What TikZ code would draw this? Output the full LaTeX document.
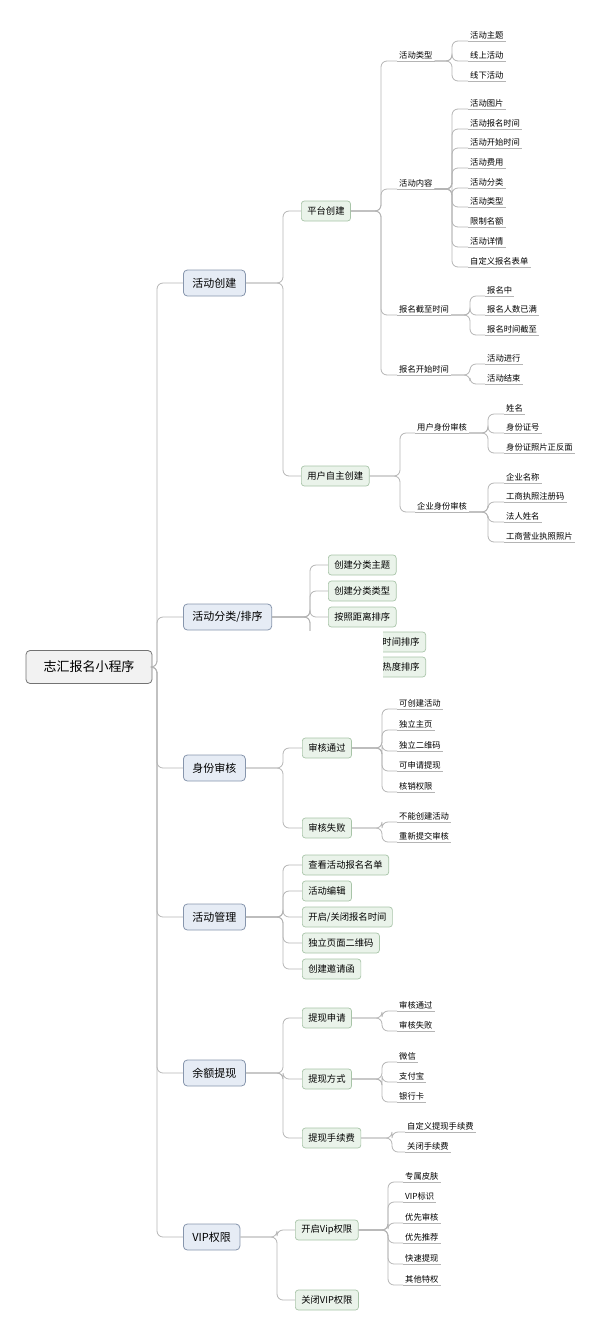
\documentclass[tikz,border=0pt]{standalone}
\usepackage{fontspec}
\setmainfont{Noto Sans CJK SC}
\definecolor{lnc}{HTML}{B4B4B4}
\definecolor{l1f}{HTML}{E6ECF5}
\definecolor{l1d}{HTML}{8796AD}
\definecolor{l2f}{HTML}{EAF3EA}
\definecolor{l2d}{HTML}{A8C4A8}
\begin{document}
\begin{tikzpicture}[x=1pt,y=-1pt,
  ln/.style={draw=lnc,line width=0.8pt,rounded corners=6pt},
  rootbox/.style={draw=black!55,fill=black!5,rounded corners=4pt,font=\fontsize{13}{15}\selectfont,minimum width=126pt,minimum height=33pt,line width=0.8pt},
  l1box/.style={draw=l1d,fill=l1f,rounded corners=4pt,font=\fontsize{11}{13}\selectfont,minimum height=26pt,inner xsep=9pt,line width=0.8pt},
  l2box/.style={draw=l2d,fill=l2f,rounded corners=3pt,font=\fontsize{9.3}{11}\selectfont,minimum height=20pt,inner xsep=6pt,line width=0.7pt},
  lf/.style={font=\fontsize{8.3}{9}\selectfont,inner xsep=2pt,inner ysep=2pt,anchor=south west}]
\useasboundingbox (0,0) rectangle (600,1334);
\newcommand\leaf[4]{\node[lf] (#1) at (#2,#3+9) {#4}; \draw[draw=lnc,line width=0.8pt] (#1.south west) -- (#1.south east);}
\newcommand\conn[3]{\draw[ln] (#1) -- (#2,0 |- #1) |- (#3);}
% root
\node[rootbox] (root) at (89,667) {志汇报名小程序};
% level 1
\node[l1box,anchor=west] (a) at (183,283) {活动创建};
\node[l1box,anchor=west] (b) at (183,617) {活动分类/排序};
\node[l1box,anchor=west] (c) at (183,768) {身份审核};
\node[l1box,anchor=west] (d) at (183,917) {活动管理};
\node[l1box,anchor=west] (e) at (183,1073) {余额提现};
\node[l1box,anchor=west] (f) at (183,1237) {VIP权限};
\foreach \n in {a,b,c,d,e,f}{\conn{root.east}{157}{\n.west}}
% 活动创建
\node[l2box,anchor=west] (a1) at (301,211) {平台创建};
\node[l2box,anchor=west] (a2) at (301,476) {用户自主创建};
\conn{a.east}{283}{a1.west}\conn{a.east}{283}{a2.west}
\leaf{a11}{397}{52}{活动类型\hspace{14pt}}
\leaf{a12}{397}{180}{活动内容\hspace{14pt}}
\leaf{a13}{397}{306}{报名截至时间\hspace{10pt}}
\leaf{a14}{397}{366}{报名开始时间\hspace{10pt}}
\foreach \n in {a11,a12,a13,a14}{\conn{a1.east}{381}{\n.south west}}
\leaf{t1}{468}{32}{活动主题}\leaf{t2}{468}{52}{线上活动}\leaf{t3}{468}{72}{线下活动}
\foreach \n in {t1,t2,t3}{\conn{a11.south east}{452}{\n.south west}}
\leaf{c1}{468}{100}{活动图片}\leaf{c2}{468}{120}{活动报名时间}\leaf{c3}{468}{139}{活动开始时间}
\leaf{c4}{468}{159}{活动费用}\leaf{c5}{468}{179}{活动分类}\leaf{c6}{468}{198}{活动类型}
\leaf{c7}{468}{218}{限制名额}\leaf{c8}{468}{238}{活动详情}\leaf{c9}{468}{258}{自定义报名表单}
\foreach \n in {c1,c2,c3,c4,c5,c6,c7,c8,c9}{\conn{a12.south east}{452}{\n.south west}}
\leaf{s1}{485}{287}{报名中}\leaf{s2}{485}{306}{报名人数已满}\leaf{s3}{485}{326}{报名时间截至}
\foreach \n in {s1,s2,s3}{\conn{a13.south east}{470}{\n.south west}}
\leaf{k1}{485}{355}{活动进行}\leaf{k2}{485}{375}{活动结束}
\foreach \n in {k1,k2}{\conn{a14.south east}{470}{\n.south west}}
\leaf{a21}{415}{424}{用户身份审核\hspace{10pt}}
\leaf{a22}{415}{503}{企业身份审核\hspace{10pt}}
\foreach \n in {a21,a22}{\conn{a2.east}{400}{\n.south west}}
\leaf{u1}{504}{405}{姓名}\leaf{u2}{504}{424}{身份证号}\leaf{u3}{504}{444}{身份证照片正反面}
\foreach \n in {u1,u2,u3}{\conn{a21.south east}{488}{\n.south west}}
\leaf{q1}{504}{474}{企业名称}\leaf{q2}{504}{493}{工商执照注册码}\leaf{q3}{504}{513}{法人姓名}\leaf{q4}{504}{533}{工商营业执照照片}
\foreach \n in {q1,q2,q3,q4}{\conn{a22.south east}{488}{\n.south west}}
% 活动分类/排序
\node[l2box,anchor=west] (b1) at (328,565) {创建分类主题};
\node[l2box,anchor=west] (b2) at (328,591) {创建分类类型};
\node[l2box,anchor=west] (b3) at (328,617) {按照距离排序};
\node[l2box,anchor=east] (b4) at (426,642) {按照时间排序};
\node[l2box,anchor=east] (b5) at (426,667) {按照热度排序};
\foreach \n in {b1,b2,b3,b4,b5}{\conn{b.east}{310}{\n.west}}
\fill[white] (296,631) rectangle (383,682);
% 身份审核
\node[l2box,anchor=west] (c1x) at (302,748) {审核通过};
\node[l2box,anchor=west] (c2x) at (302,828) {审核失败};
\foreach \n in {c1x,c2x}{\conn{c.east}{283}{\n.west}}
\leaf{p1}{397}{700}{可创建活动}\leaf{p2}{397}{721}{独立主页}\leaf{p3}{397}{742}{独立二维码}\leaf{p4}{397}{762}{可申请提现}\leaf{p5}{397}{783}{核销权限}
\foreach \n in {p1,p2,p3,p4,p5}{\conn{c1x.east}{382}{\n.south west}}
\leaf{f1}{397}{813}{不能创建活动}\leaf{f2}{397}{833}{重新提交审核}
\foreach \n in {f1,f2}{\conn{c2x.east}{382}{\n.south west}}
% 活动管理
\node[l2box,anchor=west] (d1) at (302,865) {查看活动报名名单};
\node[l2box,anchor=west] (d2) at (302,891) {活动编辑};
\node[l2box,anchor=west] (d3) at (302,917) {开启/关闭报名时间};
\node[l2box,anchor=west] (d4) at (302,943) {独立页面二维码};
\node[l2box,anchor=west] (d5) at (302,969) {创建邀请函};
\foreach \n in {d1,d2,d3,d4,d5}{\conn{d.east}{283}{\n.west}}
% 余额提现
\node[l2box,anchor=west] (e1) at (302,1018) {提现申请};
\node[l2box,anchor=west] (e2) at (302,1079) {提现方式};
\node[l2box,anchor=west] (e3) at (302,1138) {提现手续费};
\foreach \n in {e1,e2,e3}{\conn{e.east}{283}{\n.west}}
\leaf{g1}{397}{1002}{审核通过}\leaf{g2}{397}{1022}{审核失败}
\foreach \n in {g1,g2}{\conn{e1.east}{382}{\n.south west}}
\leaf{h1}{397}{1053}{微信}\leaf{h2}{397}{1073}{支付宝}\leaf{h3}{397}{1093}{银行卡}
\foreach \n in {h1,h2,h3}{\conn{e2.east}{382}{\n.south west}}
\leaf{i1}{405}{1123}{自定义提现手续费}\leaf{i2}{405}{1143}{关闭手续费}
\foreach \n in {i1,i2}{\conn{e3.east}{392}{\n.south west}}
% VIP
\node[l2box,anchor=west] (v1) at (295,1230) {开启Vip权限};
\node[l2box,anchor=west] (v2) at (295,1300) {关闭VIP权限};
\foreach \n in {v1,v2}{\conn{f.east}{277}{\n.west}}
\leaf{w1}{403}{1173}{专属皮肤}\leaf{w2}{403}{1193}{VIP标识}\leaf{w3}{403}{1214}{优先审核}
\leaf{w4}{403}{1234}{优先推荐}\leaf{w5}{403}{1255}{快速提现}\leaf{w6}{403}{1276}{其他特权}
\foreach \n in {w1,w2,w3,w4,w5,w6}{\conn{v1.east}{388}{\n.south west}}
\end{tikzpicture}
\end{document}
